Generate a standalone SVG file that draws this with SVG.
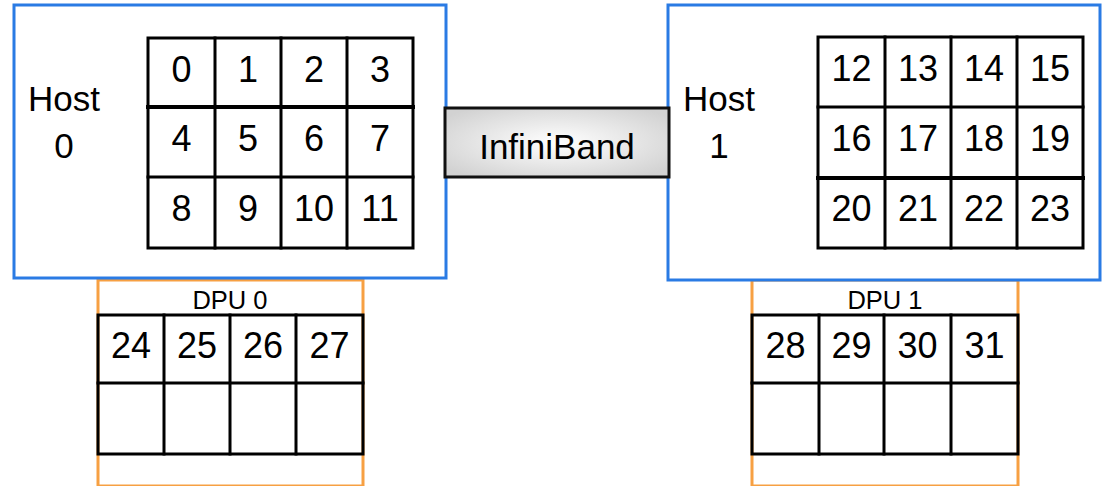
<svg xmlns="http://www.w3.org/2000/svg" width="1105" height="486" viewBox="0 0 1105 486">
  <defs>
    <radialGradient id="ibFill" cx="50%" cy="50%" r="62%">
      <stop offset="0" stop-color="#ffffff"/>
      <stop offset="1" stop-color="#d2d2d2"/>
    </radialGradient>
    <style>
      .host { fill: #ffffff; stroke: #2a7be4; stroke-width: 3; }
      .dpu { fill: #ffffff; stroke: #f7a042; stroke-width: 3; }
      .grid { fill: none; stroke: #000000; stroke-width: 3; stroke-linecap: square; }
      .thick { stroke-width: 4; }
      .num { font-family: "Liberation Sans", Arial, sans-serif; font-size: 36px; fill: #000000; text-anchor: middle; }
      .label { font-family: "Liberation Sans", Arial, sans-serif; font-size: 35px; fill: #000000; }
      .dpulabel { font-family: "Liberation Sans", Arial, sans-serif; font-size: 25.5px; fill: #000000; text-anchor: middle; }
      .ib { fill: url(#ibFill); stroke: #111111; stroke-width: 3; }
    </style>
  </defs>

  <rect width="1105" height="486" fill="#ffffff"/>

  <!-- DPU 0 -->
  <g id="dpu0">
    <rect class="dpu" x="98" y="280" width="265" height="206"/>
    <text class="dpulabel" x="230" y="308.500">DPU 0</text>
    <rect class="grid" x="98" y="315" width="265" height="139"/>
    <path class="grid" d="M98 383H363M164 315V454M230 315V454M296 315V454"/>
    <text class="num" x="131" y="358">24</text>
    <text class="num" x="197" y="358">25</text>
    <text class="num" x="263" y="358">26</text>
    <text class="num" x="329.500" y="358">27</text>
  </g>

  <!-- DPU 1 -->
  <g id="dpu1">
    <rect class="dpu" x="752" y="280" width="266" height="206"/>
    <text class="dpulabel" x="885" y="308.500">DPU 1</text>
    <rect class="grid" x="752" y="315" width="266" height="139"/>
    <path class="grid" d="M752 383H1018M819 315V454M884 315V454M951 315V454"/>
    <text class="num" x="785.500" y="358">28</text>
    <text class="num" x="851.500" y="358">29</text>
    <text class="num" x="917.500" y="358">30</text>
    <text class="num" x="984.500" y="358">31</text>
  </g>

  <!-- Host 0 -->
  <g id="host0">
    <rect class="host" x="14" y="5" width="432" height="273"/>
    <text class="label" x="28" y="111">Host</text>
    <text class="label" x="64" y="158" text-anchor="middle">0</text>
    <rect class="grid" x="148" y="38" width="265" height="210"/>
    <path class="grid" d="M148 177H413M215 38V248M281 38V248M347 38V248"/>
    <path class="grid thick" d="M148 107H413"/>
    <text class="num" x="181.500" y="82">0</text>
    <text class="num" x="248" y="82">1</text>
    <text class="num" x="314" y="82">2</text>
    <text class="num" x="380" y="82">3</text>
    <text class="num" x="181.500" y="151">4</text>
    <text class="num" x="248" y="151">5</text>
    <text class="num" x="314" y="151">6</text>
    <text class="num" x="380" y="151">7</text>
    <text class="num" x="181.500" y="221">8</text>
    <text class="num" x="248" y="221">9</text>
    <text class="num" x="314" y="221">10</text>
    <text class="num" x="380" y="221">11</text>
  </g>

  <!-- Host 1 -->
  <g id="host1">
    <rect class="host" x="668" y="5" width="432" height="275"/>
    <text class="label" x="683" y="111">Host</text>
    <text class="label" x="719" y="158" text-anchor="middle">1</text>
    <rect class="grid" x="818" y="37" width="265" height="211"/>
    <path class="grid" d="M818 107H1083M885 37V248M951 37V248M1017 37V248"/>
    <path class="grid thick" d="M818 178H1083"/>
    <text class="num" x="851.500" y="81">12</text>
    <text class="num" x="918" y="81">13</text>
    <text class="num" x="984" y="81">14</text>
    <text class="num" x="1050" y="81">15</text>
    <text class="num" x="851.500" y="151">16</text>
    <text class="num" x="918" y="151">17</text>
    <text class="num" x="984" y="151">18</text>
    <text class="num" x="1050" y="151">19</text>
    <text class="num" x="851.500" y="221">20</text>
    <text class="num" x="918" y="221">21</text>
    <text class="num" x="984" y="221">22</text>
    <text class="num" x="1050" y="221">23</text>
  </g>

  <!-- InfiniBand link between the two hosts -->
  <g id="connectors">
    <g id="infiniband">
      <rect class="ib" x="445" y="108" width="224" height="69"/>
      <text class="label" x="557" y="159" text-anchor="middle">InfiniBand</text>
    </g>
  </g>
</svg>
